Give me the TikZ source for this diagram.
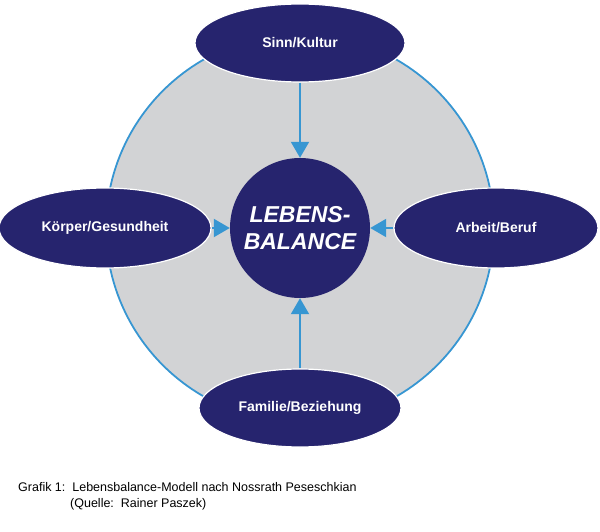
\documentclass[tikz,border=0pt]{standalone}
\usepackage{fontspec}
\setmainfont{Liberation Sans}
\usetikzlibrary{shapes.geometric,arrows.meta}
\definecolor{navy}{RGB}{38,36,110}
\definecolor{lblue}{RGB}{55,150,210}
\definecolor{lgray}{RGB}{210,211,213}
\tikzset{
  oval/.style={ellipse,fill=navy,draw=white,line width=1.2pt,text=white,font=\bfseries\fontsize{14}{16}\selectfont,inner sep=0pt},
  conn/.style={draw=lblue,line width=2pt,-{Triangle[length=16pt,width=18pt]}}
}
\begin{document}
\begin{tikzpicture}[x=1pt,y=-1pt]
\useasboundingbox (0,0) rectangle (600,532);
\node[circle,fill=lgray,draw=lblue,line width=1.8pt,minimum size=388pt,inner sep=0pt] (big) at (300,228) {};
\node[circle,fill=navy,minimum size=140pt,inner sep=0pt,text=white,align=center,font=\bfseries\itshape\fontsize{23}{27}\selectfont] (c) at (300,228) {LEBENS-\\BALANCE};
\node[oval,minimum width=210pt,minimum height=78pt] (t) at (300,43) {Sinn/Kultur};
\node[oval,minimum width=212pt,minimum height=80pt] (l) at (105,228) {Körper/Gesundheit};
\node[oval,minimum width=204pt,minimum height=80pt] (r) at (496,228) {Arbeit/Beruf};
\node[oval,minimum width=202pt,minimum height=78pt] (b) at (300,408) {Familie/Beziehung};
\draw[conn] (t) -- (c);
\draw[conn] (l) -- (c);
\draw[conn] (r) -- (c);
\draw[conn] (b) -- (c);
\node[anchor=north west,align=left,font=\fontsize{12.5}{16}\selectfont,inner sep=0pt] (cap) at (18,482) {Grafik 1:\ \ Lebensbalance-Modell nach Nossrath Peseschkian\\\hspace*{52pt}(Quelle:\ \ Rainer Paszek)};
\end{tikzpicture}
\end{document}
